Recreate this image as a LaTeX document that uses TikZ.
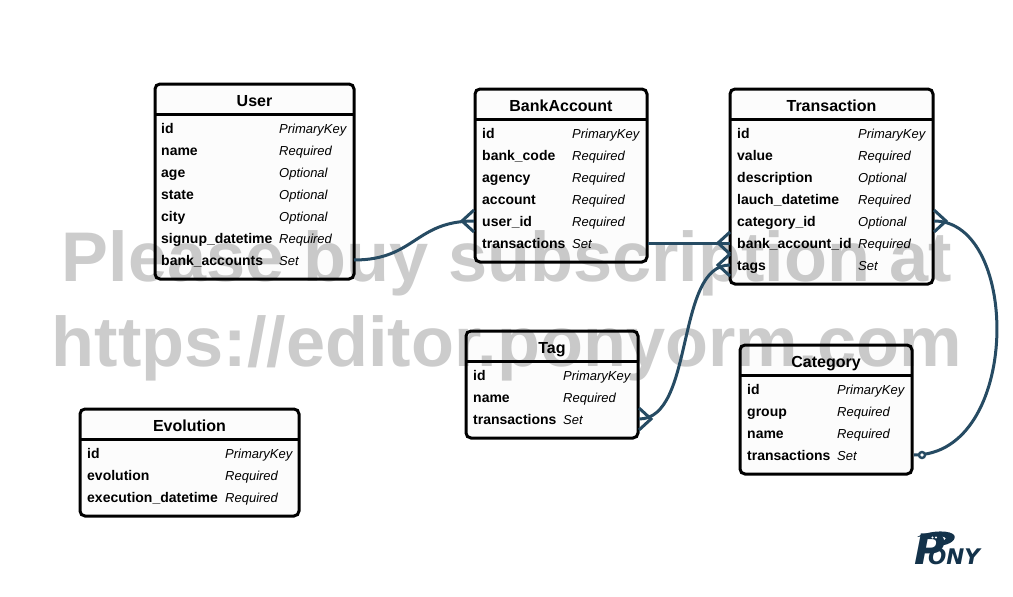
\documentclass[tikz,border=0pt]{standalone}
\usepackage{fontspec}
\setmainfont{Liberation Sans}
\newfontfamily\logofont{DejaVu Sans}
\definecolor{linkc}{HTML}{264B63}
\definecolor{wmc}{HTML}{CCCCCC}
\definecolor{logoc}{HTML}{13324A}
\tikzset{
  x=1pt,y=-1pt,
  entity/.style={draw=black,line width=3pt,rounded corners=5pt,fill=black,fill opacity=.012,draw opacity=1,anchor=north west,inner sep=0pt,outer sep=0pt},
  divider/.style={draw=black,line width=3pt},
  title/.style={font=\bfseries\fontsize{16}{18}\selectfont,text=black,anchor=base,inner sep=0pt},
  attr/.style={font=\bfseries\fontsize{14}{16}\selectfont,anchor=base west,inner sep=0pt,text=black},
  kind/.style={font=\itshape\fontsize{13}{16}\selectfont,anchor=base west,inner sep=0pt,text=black},
  link/.style={draw=linkc,line width=3pt},
  watermark/.style={font=\bfseries\fontsize{70.3}{80}\selectfont,text=wmc,inner sep=0pt,anchor=base},
  logotext/.style={text=logoc,inner sep=0pt,anchor=base west},
}
\newcommand{\entitybox}[6]{% name, x1, y1, x2, y2, title
  \node[entity,minimum width=#4-#2,minimum height=#5-#3] (#1) at (#2,#3) {};
  \draw[divider] (#2,#3+30) -- (#4,#3+30);
  \node[title] (#1-title) at ({(#2+#4)/2},#3+22) {#6};
}
\newcommand{\fieldrow}[6]{% id, xname, xkind, y, name, kind
  \node[attr] (#1-n) at (#2,#4+5) {#5};
  \node[kind] (#1-k) at (#3,#4+5) {#6};
}
\begin{document}
\begin{tikzpicture}
\useasboundingbox (0,0) rectangle (1013,597);
\fill[white] (0,0) rectangle (1013,597);
\node[watermark] (wm1) at (507,281) {Please buy subscription at};
\node[watermark] (wm2) at (507,366) {https://editor.ponyorm.com};

\entitybox{user}{155}{84}{354}{279}{User}
\fieldrow{u1}{161}{279}{128}{id}{PrimaryKey}
\fieldrow{u2}{161}{279}{150}{name}{Required}
\fieldrow{u3}{161}{279}{172}{age}{Optional}
\fieldrow{u4}{161}{279}{194}{state}{Optional}
\fieldrow{u5}{161}{279}{216}{city}{Optional}
\fieldrow{u6}{161}{279}{238}{signup\_datetime}{Required}
\fieldrow{u7}{161}{279}{260}{bank\_accounts}{Set}

\entitybox{bank}{475}{89}{647}{262}{BankAccount}
\fieldrow{b1}{482}{572}{133}{id}{PrimaryKey}
\fieldrow{b2}{482}{572}{155}{bank\_code}{Required}
\fieldrow{b3}{482}{572}{177}{agency}{Required}
\fieldrow{b4}{482}{572}{199}{account}{Required}
\fieldrow{b5}{482}{572}{221}{user\_id}{Required}
\fieldrow{b6}{482}{572}{243}{transactions}{Set}

\entitybox{trans}{730}{89}{933}{284}{Transaction}
\fieldrow{t1}{737}{858}{133}{id}{PrimaryKey}
\fieldrow{t2}{737}{858}{155}{value}{Required}
\fieldrow{t3}{737}{858}{177}{description}{Optional}
\fieldrow{t4}{737}{858}{199}{lauch\_datetime}{Required}
\fieldrow{t5}{737}{858}{221}{category\_id}{Optional}
\fieldrow{t6}{737}{858}{243}{bank\_account\_id}{Required}
\fieldrow{t7}{737}{858}{265}{tags}{Set}

\entitybox{tag}{466}{331}{638}{438}{Tag}
\fieldrow{g1}{473}{563}{375}{id}{PrimaryKey}
\fieldrow{g2}{473}{563}{397}{name}{Required}
\fieldrow{g3}{473}{563}{419}{transactions}{Set}

\entitybox{cat}{740}{345}{912}{474}{Category}
\fieldrow{c1}{747}{837}{389}{id}{PrimaryKey}
\fieldrow{c2}{747}{837}{411}{group}{Required}
\fieldrow{c3}{747}{837}{433}{name}{Required}
\fieldrow{c4}{747}{837}{455}{transactions}{Set}

\entitybox{evo}{80}{409}{299}{516}{Evolution}
\fieldrow{e1}{87}{225}{453}{id}{PrimaryKey}
\fieldrow{e2}{87}{225}{475}{evolution}{Required}
\fieldrow{e3}{87}{225}{497}{execution\_datetime}{Required}

% connector ends
\coordinate (ua) at (354,260);
\coordinate (bu) at (474,221);
\coordinate (bt) at (648,243);
\coordinate (tb) at (730,243);
\coordinate (gt) at (639,419);
\coordinate (tg) at (730,265);
\coordinate (tc) at (934,221);
\coordinate (ct) at (914,455);
\coordinate (co) at (922,455);

\draw[link] (ua) .. controls (415,260) and (415,221) .. (bu);
\draw[link] (bt) -- (tb);
\draw[link] (gt) .. controls (695,419) and (675,265) .. (tg);
\draw[link] (tc) .. controls (1021,221) and (1021,455) .. (ct);

% crow's feet
\draw[link] (474,210) -- (462,221) -- (474,232);
\draw[link] (730,232) -- (718,243) -- (730,254);
\draw[link] (730,254) -- (718,265) -- (730,276);
\draw[link] (639,408) -- (651,419) -- (639,430);
\draw[link] (934,210) -- (946,221) -- (934,232);
% zero-or-one circle
\draw[link,fill=white,line width=2.4pt] (co) circle (3pt);

% logo
\fill[logoc] (917,537) .. controls (925,532) and (945,529) .. (953,534) .. controls (958,538) and (952,545) .. (938,546) -- (938,542) .. controls (945,541) and (948,538) .. (944,537) .. controls (936,535) and (925,536) .. (917,537) -- cycle;
\node[logotext,font=\logofont\bfseries\itshape\fontsize{42}{42}\selectfont] (logop) at (914,564) {P};
\fill[white] (932.5,537.5) circle (1.1pt) (936,537.5) circle (1.1pt);
\node[logotext,font=\logofont\bfseries\itshape\fontsize{21.5}{22}\selectfont] (logony) at (928,564) {ONY};
\end{tikzpicture}
\end{document}
